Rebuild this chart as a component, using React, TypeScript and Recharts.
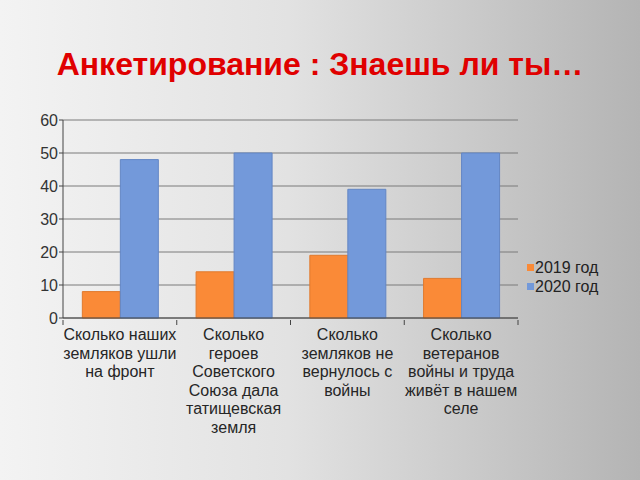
import React from 'react'
import { BarChart, Bar, XAxis, YAxis, CartesianGrid } from 'recharts'

const categories = [
  'Сколько наших\nземляков ушли\nна фронт',
  'Сколько\nгероев\nСоветского\nСоюза дала\nтатищевская\nземля',
  'Сколько\nземляков не\nвернулось с\nвойны',
  'Сколько\nветеранов\nвойны и труда\nживёт в нашем\nселе',
]
const series2019 = [8, 14, 19, 12]
const series2020 = [48, 50, 39, 50]
const yTicks = [0, 10, 20, 30, 40, 50, 60]

const ORANGE = '#FA8A37'
const BLUE = '#7399DA'

const data = categories.map((name, i) => ({ name, y2019: series2019[i], y2020: series2020[i] }))

const CategoryTick = (props: any) => {
  const { x, y, payload, index } = props
  const band = (518 - 63) / categories.length
  const lines = String(payload.value).split('\n')
  return (
    <g>
      <line x1={x - band / 2} y1={y - 6} x2={x - band / 2} y2={y - 1} stroke="#444" />
      {index === categories.length - 1 && (
        <line x1={x + band / 2} y1={y - 6} x2={x + band / 2} y2={y - 1} stroke="#444" />
      )}
      <text x={x} y={y} textAnchor="middle" fill="#262626" fontSize={16} fontFamily="Liberation Sans, Arial, sans-serif">
        {lines.map((l, i) => (
          <tspan key={i} x={x} dy={i === 0 ? 14 : 18.5}>{l}</tspan>
        ))}
      </text>
    </g>
  )
}

export default function App() {
  return (
    <div
      style={{
        position: 'fixed',
        left: 0,
        top: 0,
        width: 640,
        height: 480,
        overflow: 'hidden',
        background: 'linear-gradient(to right, #f3f3f3 0%, #e2e2e2 45%, #b4b4b4 100%)',
        fontFamily: 'Liberation Sans, Arial, sans-serif',
      }}
    >
      <div
        style={{
          position: 'absolute',
          top: 46,
          left: 0,
          width: 640,
          textAlign: 'center',
          color: '#E00000',
          fontWeight: 'bold',
          fontSize: 32,
        }}
      >
        Анкетирование : Знаешь ли ты…
      </div>
      <div style={{ position: 'absolute', left: 0, top: 0 }}>
        <BarChart
          width={640}
          height={480}
          data={data}
          margin={{ top: 120, right: 122, left: 0, bottom: 0 }}
          barCategoryGap="17%"
          barGap={0}
        >
          <CartesianGrid vertical={false} stroke="#7a7a7a" strokeWidth={1} />
          <XAxis
            dataKey="name"
            stroke="#444"
            tickLine={false}
            interval={0}
            tick={<CategoryTick />}
            height={162}
          />
          <YAxis
            domain={[0, 60]}
            ticks={yTicks}
            width={63}
            stroke="#444"
            tickSize={4}
            tick={{ fill: '#333', fontSize: 16 }}
            tickMargin={1}
          />
          <Bar dataKey="y2019" name="2019 год" fill={ORANGE} stroke="#e07a2e" isAnimationActive={false} />
          <Bar dataKey="y2020" name="2020 год" fill={BLUE} stroke="#6386c4" isAnimationActive={false} />
        </BarChart>
      </div>
      <div style={{ position: 'absolute', left: 527, top: 258, fontSize: 16, color: '#222', lineHeight: '19px' }}>
        {[
          { label: '2019 год', color: ORANGE },
          { label: '2020 год', color: BLUE },
        ].map((item) => (
          <div key={item.label} style={{ display: 'flex', alignItems: 'center' }}>
            <span style={{ display: 'inline-block', width: 7, height: 7, background: item.color, marginRight: 1 }} />
            {item.label}
          </div>
        ))}
      </div>
    </div>
  )
}
